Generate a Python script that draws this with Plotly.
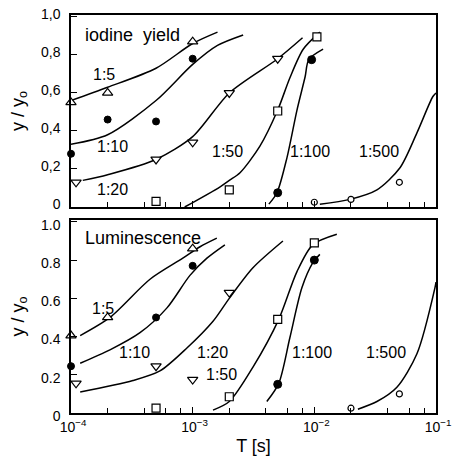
import plotly.graph_objects as go

# ---------------- data ----------------
ratios = ["1:5", "1:10", "1:20", "1:50", "1:100", "1:500"]

# measured points, top panel (iodine yield)
iod_T = {
    "1:5":   [1e-4, 2e-4, 1e-3],
    "1:10":  [1e-4, 2e-4, 5e-4, 1e-3],
    "1:20":  [1.1e-4, 5e-4, 1e-3, 2e-3, 5e-3],
    "1:50":  [5e-4, 2e-3, 5e-3, 1.05e-2],
    "1:100": [5e-3, 9.5e-3],
    "1:500": [1e-2, 2e-2, 5e-2, 1e-1],
}
iod_y = {
    "1:5":   [0.55, 0.60, 0.87],
    "1:10":  [0.28, 0.46, 0.45, 0.78],
    "1:20":  [0.13, 0.25, 0.34, 0.60, 0.78],
    "1:50":  [0.03, 0.09, 0.505, 0.895],
    "1:100": [0.075, 0.775],
    "1:500": [0.025, 0.04, 0.13, 0.60],
}
# fitted curves, top panel
iod_curve_T = {
    "1:5":   [1.0e-4, 2e-4, 5e-4, 1e-3, 1.6e-3],
    "1:10":  [1e-4, 2e-4, 5e-4, 1e-3, 1.6e-3, 2.6e-3],
    "1:20":  [1.25e-4, 2e-4, 5e-4, 1e-3, 2e-3, 5e-3, 8e-3],
    "1:50":  [8.6e-4, 1.67e-3, 2e-3, 2.45e-3, 3.57e-3, 5e-3, 6.3e-3, 8.1e-3, 1.11e-2],
    "1:100": [4.23e-3, 4.93e-3, 5.96e-3, 7.2e-3, 8.4e-3, 9.0e-3, 1.18e-2],
    "1:500": [1.11e-2, 1.96e-2, 3.27e-2, 5.04e-2, 6.97e-2, 9.4e-2, 1e-1],
}
iod_curve_y = {
    "1:5":   [0.56, 0.63, 0.73, 0.86, 0.92],
    "1:10":  [0.33, 0.38, 0.56, 0.75, 0.85, 0.905],
    "1:20":  [0.14, 0.17, 0.25, 0.37, 0.60, 0.78, 0.89],
    "1:50":  [0.0, 0.105, 0.14, 0.18, 0.32, 0.51, 0.68, 0.83, 0.92],
    "1:100": [0.015, 0.075, 0.26, 0.51, 0.685, 0.775, 0.83],
    "1:500": [0.015, 0.04, 0.09, 0.205, 0.39, 0.58, 0.60],
}

# measured points, bottom panel (luminescence)
lum_T = {
    "1:5":   [1e-4, 2e-4, 1e-3],
    "1:10":  [1e-4, 5e-4, 1e-3],
    "1:20":  [1.1e-4, 5e-4, 1e-3, 2e-3],
    "1:50":  [5e-4, 2e-3, 5e-3, 1e-2],
    "1:100": [5e-3, 1e-2],
    "1:500": [2e-2, 5e-2, 1e-1],
}
lum_y = {
    "1:5":   [0.405, 0.50, 0.86],
    "1:10":  [0.245, 0.50, 0.77],
    "1:20":  [0.155, 0.245, 0.175, 0.63],
    "1:50":  [0.025, 0.085, 0.49, 0.89],
    "1:100": [0.15, 0.80],
    "1:500": [0.025, 0.10, 0.685],
}
lum_curve_T = {
    "1:5":   [1.19e-4, 2.09e-4, 4.46e-4, 8.3e-4, 1.15e-3, 1.58e-3],
    "1:10":  [1.19e-4, 2.09e-4, 3.69e-4, 6.15e-4, 9.5e-4, 1.31e-3, 1.84e-3],
    "1:20":  [1.19e-4, 3.23e-4, 5.38e-4, 8.97e-4, 1.47e-3, 2e-3, 3.13e-3, 5.52e-3],
    "1:50":  [1.47e-3, 2e-3, 3.13e-3, 5.1e-3, 7.2e-3, 9.7e-3, 1.53e-2],
    "1:100": [4.07e-3, 5.1e-3, 6.3e-3, 7.9e-3, 9.7e-3, 1.11e-2],
    "1:500": [2.28e-2, 3.27e-2, 4.77e-2, 6.97e-2, 9.8e-2, 1e-1],
}
lum_curve_y = {
    "1:5":   [0.405, 0.50, 0.70, 0.81, 0.87, 0.915],
    "1:10":  [0.26, 0.33, 0.42, 0.55, 0.72, 0.81, 0.88],
    "1:20":  [0.11, 0.17, 0.22, 0.34, 0.48, 0.60, 0.76, 0.90],
    "1:50":  [0.015, 0.06, 0.24, 0.49, 0.74, 0.88, 0.935],
    "1:100": [0.06, 0.155, 0.395, 0.655, 0.785, 0.83],
    "1:500": [0.02, 0.06, 0.135, 0.31, 0.655, 0.685],
}

y_ticks = [0, 0.2, 0.4, 0.6, 0.8, 1.0]
y_ticktext_top = ["0", "0,2", "0,4", "0,6", "0,8", "1,0"]
y_ticktext_bottom = ["0", "0.2", "0.4", "0.6", "0.8", "1.0"]
x_ticks = [1e-4, 1e-3, 1e-2, 1e-1]
x_ticktext = ["10<sup>−4</sup>", "10<sup>−3</sup>", "10<sup>−2</sup>", "10<sup>−1</sup>"]
x_minor = [m * d for d in [1e-4, 1e-3, 1e-2] for m in (2, 4, 6, 8)]

# ---------------- styles ----------------
FONT = "Liberation Sans, Arial, sans-serif"
marker_style = {
    "1:5":   dict(symbol="triangle-up", size=9, color="white", line=dict(color="black", width=1.2)),
    "1:10":  dict(symbol="circle", size=7, color="black", line=dict(color="black", width=1)),
    "1:20":  dict(symbol="triangle-down", size=9, color="white", line=dict(color="black", width=1.2)),
    "1:50":  dict(symbol="square", size=8, color="white", line=dict(color="black", width=1.2)),
    "1:100": dict(symbol="circle", size=8, color="black", line=dict(color="black", width=1)),
    "1:500": dict(symbol="circle", size=6, color="white", line=dict(color="black", width=1.2)),
}

fig = go.Figure()

for xa, ya, cT, cY, pT, pY in [
    ("x2", "y2", iod_curve_T, iod_curve_y, iod_T, iod_y),
    ("x", "y", lum_curve_T, lum_curve_y, lum_T, lum_y),
]:
    for r in ratios:
        fig.add_trace(go.Scatter(
            x=cT[r], y=cY[r], mode="lines", xaxis=xa, yaxis=ya,
            line=dict(color="black", width=1.5, shape="spline", smoothing=0.8),
            showlegend=False, hoverinfo="skip"))
    for r in ratios:
        fig.add_trace(go.Scatter(
            x=pT[r], y=pY[r], mode="markers", xaxis=xa, yaxis=ya,
            marker=marker_style[r], showlegend=False, cliponaxis=False, name=r))

# ---------------- annotations (labels) ----------------
top_label_pos = {
    "1:5": (-3.73, 0.695), "1:10": (-3.663, 0.316), "1:20": (-3.655, 0.09),
    "1:50": (-2.71, 0.29), "1:100": (-2.036, 0.29), "1:500": (-1.469, 0.29),
}
bot_label_pos = {
    "1:5": (-3.737, 0.545), "1:10": (-3.482, 0.317), "1:20": (-2.841, 0.317),
    "1:50": (-2.767, 0.203), "1:100": (-2.02, 0.317), "1:500": (-1.41, 0.317),
}
ann = []
for r in ratios:
    x, y = top_label_pos[r]
    ann.append(dict(x=x, y=y, xref="x2", yref="y2", text=r, showarrow=False,
                    font=dict(size=16, color="black", family=FONT)))
    x, y = bot_label_pos[r]
    ann.append(dict(x=x, y=y, xref="x", yref="y", text=r, showarrow=False,
                    font=dict(size=16, color="black", family=FONT)))
ann.append(dict(x=-3.90, y=0.905, xref="x2", yref="y2", text="iodine  yield", showarrow=False,
                xanchor="left", font=dict(size=18, color="black", family=FONT)))
ann.append(dict(x=-3.90, y=0.915, xref="x", yref="y", text="Luminescence", showarrow=False,
                xanchor="left", font=dict(size=18, color="black", family=FONT)))

common_x = dict(
    type="log", range=[-4, -1], showline=True, linecolor="black", linewidth=1.5, mirror=True,
    tickvals=x_ticks, ticks="inside", ticklen=6, tickwidth=1.2, tickcolor="black",
    minor=dict(tickvals=x_minor, ticks="inside", ticklen=5, tickwidth=1.2, tickcolor="black", showgrid=False),
    showgrid=False, zeroline=False, automargin=False,
)
common_y = dict(
    range=[0, 1.01], showline=True, linecolor="black", linewidth=1.5, mirror=True,
    tickvals=y_ticks, ticks="inside", ticklen=6, tickwidth=1.2, tickcolor="black",
    showgrid=False, zeroline=False, ticklabelstandoff=6, automargin=False,
    tickfont=dict(size=14, color="black", family=FONT),
)

fig.update_layout(
    template="none",
    width=455, height=470,
    margin=dict(l=71, r=19, t=15, b=57),
    paper_bgcolor="white", plot_bgcolor="white",
    font=dict(family=FONT, color="black"),
    xaxis=dict(**common_x, anchor="y", domain=[0, 1], ticktext=x_ticktext,
               tickfont=dict(size=14, color="black", family=FONT), ticklabelshift=2,
               ticklabeloverflow="allow",
               title=dict(text="T [s]", font=dict(size=18, color="black", family=FONT), standoff=6)),
    xaxis2=dict(**common_x, anchor="y2", domain=[0, 1], showticklabels=False, matches="x"),
    yaxis=dict(**common_y, anchor="x", domain=[0, 0.485], ticktext=y_ticktext_bottom, ticklabelshift=3,
               title=dict(text="y / y<sub>o</sub>", font=dict(size=18, color="black", family=FONT), standoff=12)),
    yaxis2=dict(**common_y, anchor="x2", domain=[0.5176, 1], ticktext=y_ticktext_top, ticklabelshift=-3,
                title=dict(text="y / y<sub>o</sub>", font=dict(size=18, color="black", family=FONT), standoff=12)),
    annotations=ann,
)

fig.write_html("out.html", config={"displayModeBar": False},
               post_script="document.body.style.margin='0px';")
